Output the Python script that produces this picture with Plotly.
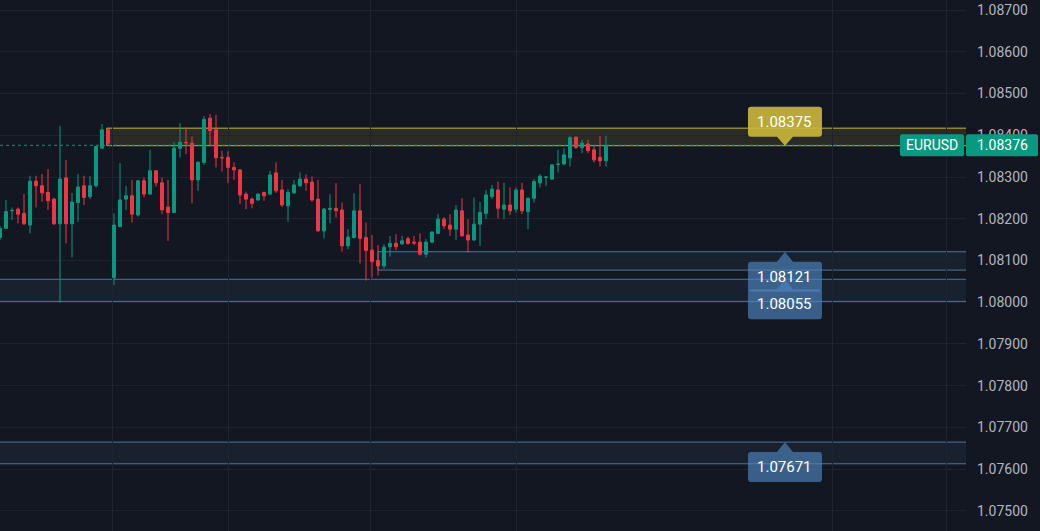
import plotly.graph_objects as go

# ---------------- data (EURUSD, hourly candles) ----------------
opens = [1.08155, 1.08177, 1.08219, 1.08223, 1.08213, 1.08185, 1.08290, 1.08279, 1.08263, 1.08247,
         1.08188, 1.08298, 1.08188, 1.08239, 1.08279, 1.08253, 1.08279, 1.08369, 1.08413, 1.08059,
         1.08181, 1.08247, 1.08255, 1.08209, 1.08291, 1.08259, 1.08315, 1.08286, 1.08228, 1.08215,
         1.08369, 1.08383, 1.08381, 1.08293, 1.08335, 1.08441, 1.08413, 1.08347, 1.08347, 1.08323,
         1.08317, 1.08259, 1.08247, 1.08245, 1.08263, 1.08259, 1.08310, 1.08269, 1.08231, 1.08262,
         1.08279, 1.08295, 1.08288, 1.08247, 1.08171, 1.08222, 1.08225, 1.08221, 1.08135, 1.08155,
         1.08219, 1.08155, 1.08125, 1.08100, 1.08087, 1.08133, 1.08141, 1.08140, 1.08152, 1.08144,
         1.08144, 1.08115, 1.08144, 1.08165, 1.08199, 1.08185, 1.08175, 1.08219, 1.08161, 1.08149,
         1.08187, 1.08213, 1.08253, 1.08269, 1.08223, 1.08233, 1.08223, 1.08269, 1.08217, 1.08249,
         1.08286, 1.08299, 1.08295, 1.08330, 1.08331, 1.08346, 1.08395, 1.08370, 1.08379, 1.08365,
         1.08347, 1.08339]
highs = [1.08183, 1.08245, 1.08227, 1.08227, 1.08259, 1.08303, 1.08303, 1.08307, 1.08319, 1.08251,
         1.08423, 1.08341, 1.08262, 1.08307, 1.08303, 1.08302, 1.08374, 1.08427, 1.08415, 1.08213,
         1.08333, 1.08279, 1.08293, 1.08293, 1.08299, 1.08365, 1.08316, 1.08299, 1.08293, 1.08383,
         1.08429, 1.08419, 1.08397, 1.08338, 1.08446, 1.08451, 1.08449, 1.08363, 1.08362, 1.08335,
         1.08319, 1.08265, 1.08251, 1.08261, 1.08265, 1.08315, 1.08335, 1.08293, 1.08271, 1.08293,
         1.08311, 1.08306, 1.08301, 1.08293, 1.08226, 1.08259, 1.08285, 1.08239, 1.08175, 1.08261,
         1.08283, 1.08191, 1.08161, 1.08137, 1.08139, 1.08159, 1.08163, 1.08159, 1.08157, 1.08159,
         1.08165, 1.08151, 1.08170, 1.08211, 1.08204, 1.08211, 1.08233, 1.08249, 1.08199, 1.08251,
         1.08240, 1.08269, 1.08281, 1.08289, 1.08286, 1.08275, 1.08275, 1.08286, 1.08251, 1.08295,
         1.08307, 1.08301, 1.08331, 1.08365, 1.08369, 1.08399, 1.08398, 1.08389, 1.08389, 1.08377,
         1.08398, 1.08399]
lows = [1.08149, 1.08176, 1.08197, 1.08189, 1.08185, 1.08165, 1.08227, 1.08241, 1.08221, 1.08185,
        1.07999, 1.08141, 1.08107, 1.08193, 1.08233, 1.08247, 1.08275, 1.08367, 1.08375, 1.08041,
        1.08180, 1.08221, 1.08191, 1.08205, 1.08251, 1.08257, 1.08277, 1.08211, 1.08147, 1.08213,
        1.08347, 1.08355, 1.08237, 1.08267, 1.08329, 1.08376, 1.08323, 1.08313, 1.08285, 1.08293,
        1.08235, 1.08223, 1.08225, 1.08243, 1.08243, 1.08258, 1.08262, 1.08228, 1.08193, 1.08259,
        1.08277, 1.08267, 1.08241, 1.08169, 1.08153, 1.08189, 1.08203, 1.08121, 1.08127, 1.08153,
        1.08093, 1.08052, 1.08059, 1.08064, 1.08081, 1.08109, 1.08125, 1.08137, 1.08137, 1.08137,
        1.08112, 1.08107, 1.08141, 1.08163, 1.08175, 1.08159, 1.08149, 1.08157, 1.08119, 1.08147,
        1.08135, 1.08199, 1.08247, 1.08201, 1.08199, 1.08209, 1.08215, 1.08211, 1.08175, 1.08239,
        1.08275, 1.08279, 1.08293, 1.08311, 1.08329, 1.08325, 1.08367, 1.08357, 1.08357, 1.08335,
        1.08325, 1.08325]
closes = [1.08177, 1.08217, 1.08220, 1.08211, 1.08188, 1.08290, 1.08279, 1.08262, 1.08243, 1.08188,
          1.08295, 1.08188, 1.08240, 1.08276, 1.08251, 1.08279, 1.08373, 1.08413, 1.08381, 1.08185,
          1.08245, 1.08255, 1.08211, 1.08291, 1.08259, 1.08315, 1.08286, 1.08221, 1.08215, 1.08369,
          1.08383, 1.08382, 1.08293, 1.08335, 1.08438, 1.08411, 1.08346, 1.08346, 1.08323, 1.08317,
          1.08257, 1.08247, 1.08237, 1.08259, 1.08255, 1.08305, 1.08267, 1.08233, 1.08263, 1.08281,
          1.08295, 1.08286, 1.08245, 1.08171, 1.08223, 1.08225, 1.08219, 1.08135, 1.08156, 1.08219,
          1.08153, 1.08124, 1.08097, 1.08087, 1.08132, 1.08141, 1.08133, 1.08147, 1.08141, 1.08142,
          1.08115, 1.08144, 1.08168, 1.08199, 1.08183, 1.08175, 1.08221, 1.08159, 1.08149, 1.08187,
          1.08215, 1.08257, 1.08271, 1.08225, 1.08233, 1.08219, 1.08269, 1.08219, 1.08249, 1.08289,
          1.08302, 1.08300, 1.08329, 1.08331, 1.08353, 1.08394, 1.08371, 1.08381, 1.08363, 1.08341,
          1.08339, 1.08376]
bar_index = list(range(len(opens)))

symbol = "EURUSD"
last_price = 1.08376

# day separators (bar positions)
day_breaks = [18.8, 38.0, 61.8, 86.0, 138.8, 157.8]

# price axis ticks
tick_values = [1.075, 1.076, 1.077, 1.078, 1.079, 1.080, 1.081, 1.082, 1.083, 1.084, 1.085, 1.086, 1.087]
tick_labels = ["1.07500", "1.07600", "1.07700", "1.07800", "1.07900", "1.08000", "1.08100",
               "1.08200", "1.08300", "1.08400", "1.08500", "1.08600", "1.08700"]

# supply / demand zones
zone_top = [1.08417, 1.08121, 1.08055, 1.07665]
zone_bottom = [1.08375, 1.08077, 1.08002, 1.07613]
zone_start_bar = [17.8, 63.0, -2.0, -2.0]
zone_label = [1.08375, 1.08121, 1.08055, 1.07671]
zone_kind = ["resistance", "support", "support", "support"]

# ---------------- style ----------------
BG = "#131722"
GRID = "#1f2330"
UP = "#089981"
DOWN = "#f23645"
FONT = "Roboto"
YELLOW_LINE = "#c8b53a"
YELLOW_FILL = "rgba(200,181,58,0.13)"
YELLOW_BOX = "rgba(200,181,58,0.92)"
BLUE_LINE = "#4a76a0"
BLUE_FILL = "rgba(74,118,160,0.10)"
BLUE_BOX = "rgba(78,132,190,0.66)"

fig = go.Figure()
fig.add_trace(go.Candlestick(
    x=bar_index, open=opens, high=highs, low=lows, close=closes,
    increasing=dict(line=dict(color=UP, width=1), fillcolor=UP),
    decreasing=dict(line=dict(color=DOWN, width=1), fillcolor=DOWN),
    whiskerwidth=0, showlegend=False, hoverinfo="skip",
))


def rbox(x0, x1, y0, y1, r=3):
    return (f"M{x0 + r},{y0} L{x1 - r},{y0} Q{x1},{y0} {x1},{y0 + r} "
            f"L{x1},{y1 - r} Q{x1},{y1} {x1 - r},{y1} L{x0 + r},{y1} "
            f"Q{x0},{y1} {x0},{y1 - r} L{x0},{y0 + r} Q{x0},{y0} {x0 + r},{y0} Z")


shapes = []
annotations = []
LABEL_X = 0.8126  # paper position of zone labels

for top, bot, start, lab, kind in zip(zone_top, zone_bottom, zone_start_bar, zone_label, zone_kind):
    res = kind == "resistance"
    line_c = YELLOW_LINE if res else BLUE_LINE
    fill_c = YELLOW_FILL if res else BLUE_FILL
    shapes.append(dict(type="rect", xref="x", yref="y", x0=start, x1=200, y0=bot, y1=top,
                       fillcolor=fill_c, line=dict(color=line_c, width=1), layer="below"))
    anchor = bot if res else top
    if res:
        path = rbox(-37, 37, 9, 39) + " M-8,9 L0,0 L8,9 Z"
        box_c = YELLOW_BOX
        shift = 24
    else:
        path = rbox(-37, 37, -40, -10) + " M-8,-10 L0,0 L8,-10 Z"
        box_c = BLUE_BOX
        shift = -25
    shapes.append(dict(type="path", xref="paper", yref="y", xsizemode="pixel", ysizemode="pixel",
                       xanchor=LABEL_X, yanchor=anchor, path=path, fillcolor=box_c,
                       line=dict(width=0), layer="above"))
    annotations.append(dict(xref="paper", yref="y", x=LABEL_X, y=anchor, yshift=shift,
                            xanchor="center", yanchor="middle",
                            text=f"{lab:.5f}", showarrow=False,
                            font=dict(family=FONT, size=15, color="#ffffff")))

# last price line
shapes.append(dict(type="line", xref="paper", yref="y", x0=0, x1=1, y0=last_price, y1=last_price,
                   line=dict(color=UP, width=1, dash="dot"), layer="above"))
# symbol tag and price tag
shapes.append(dict(type="path", xref="paper", yref="y", xsizemode="pixel", ysizemode="pixel",
                   xanchor=1, yanchor=last_price, path=rbox(-66, -2, -11, 11, 2),
                   fillcolor=UP, line=dict(width=0), layer="above"))
shapes.append(dict(type="path", xref="paper", yref="y", xsizemode="pixel", ysizemode="pixel",
                   xanchor=1, yanchor=last_price, path=rbox(0, 72, -11, 11, 2),
                   fillcolor=UP, line=dict(width=0), layer="above"))
annotations.append(dict(xref="paper", yref="y", x=1, xshift=-34, y=last_price, text=symbol,
                        xanchor="center", yanchor="middle",
                        showarrow=False, font=dict(family=FONT, size=14, color="#ffffff")))
annotations.append(dict(xref="paper", yref="y", x=1, xshift=36, y=last_price,
                        xanchor="center", yanchor="middle",
                        text=f"{last_price:.5f}", showarrow=False,
                        font=dict(family=FONT, size=14, color="#ffffff")))

fig.update_layout(
    width=1040, height=531,
    margin=dict(l=0, r=74, t=0, b=0),
    paper_bgcolor=BG, plot_bgcolor=BG,
    shapes=shapes, annotations=annotations,
    showlegend=False, hovermode=False,
    xaxis=dict(range=[0, 161], rangeslider=dict(visible=False), showticklabels=False,
               tickmode="array", tickvals=day_breaks, showgrid=True, gridcolor=GRID,
               gridwidth=1, zeroline=False, showline=False, ticks=""),
    yaxis=dict(side="right", range=[1.07452, 1.08724], tickmode="array",
               tickvals=tick_values, ticktext=tick_labels, showgrid=True, gridcolor=GRID,
               gridwidth=1, zeroline=False, showline=False, ticks="", ticklabelstandoff=10,
               tickfont=dict(family=FONT, size=14, color="#b2b5be")),
)

fig.write_html("out.html", config={"displayModeBar": False},
               post_script="document.body.style.margin='0';document.body.style.background='#131722';")
